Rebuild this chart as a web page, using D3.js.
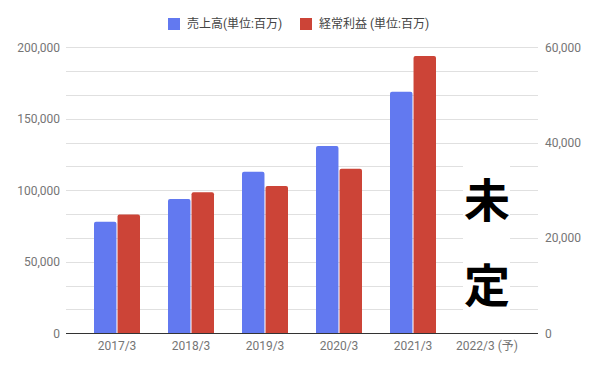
<!DOCTYPE html>
<html>
<head>
<meta charset="utf-8">
<script src="https://d3js.org/d3.v7.min.js"></script>
<style>
  body { margin: 0; background: #fff; }
  text { font-family: Roboto, "Noto Sans CJK JP", sans-serif; }
</style>
</head>
<body>
<svg width="597" height="369"></svg>
<script>

const categories = ["2017/3", "2018/3", "2019/3", "2020/3", "2021/3", "2022/3 (予)"];
const sales = [78000, 94000, 113000, 131000, 169000, null];
const profit = [24900, 29600, 30900, 34500, 58200, null];
const seriesNames = ["売上高(単位:百万)", "経常利益 (単位:百万)"];
const colors = ["#6279f0", "#cc4437"];
const leftTicks = [0, 50000, 100000, 150000, 200000];
const rightTicks = [0, 20000, 40000, 60000];

var svg = d3.select("svg"),
    plotLeft = 66, plotRight = 538,
    plotTop = 47.3, plotBottom = 333.3;

var x = d3.scaleBand()
    .domain(categories)
    .range([80, 524]);

var xs = d3.scaleBand()
    .domain([0, 1])
    .range([-23, 23])
    .paddingInner(0.045);

var yL = d3.scaleLinear().domain([0, 200000]).range([plotBottom, plotTop]);
var yR = d3.scaleLinear().domain([0, 60000]).range([plotBottom, plotTop]);

// gridlines (12 intervals)
svg.append("g")
  .selectAll("line")
  .data(d3.range(1, 13))
  .enter().append("line")
    .attr("x1", plotLeft).attr("x2", plotRight)
    .attr("y1", function(d) { return Math.round(yR(d * 5000)) + 0.5; })
    .attr("y2", function(d) { return Math.round(yR(d * 5000)) + 0.5; })
    .attr("stroke", "#e0e0e0")
    .attr("stroke-width", 1);

// left axis labels
svg.append("g")
  .selectAll("text")
  .data(leftTicks)
  .enter().append("text")
    .attr("x", 60)
    .attr("y", function(d) { return yL(d); })
    .attr("dy", "0.35em")
    .attr("text-anchor", "end")
    .attr("font-size", 12)
    .attr("fill", "#757575")
    .text(d3.format(","));

// right axis labels
svg.append("g")
  .selectAll("text")
  .data(rightTicks)
  .enter().append("text")
    .attr("x", 545)
    .attr("y", function(d) { return yR(d); })
    .attr("dy", "0.35em")
    .attr("font-size", 12)
    .attr("fill", "#757575")
    .text(d3.format(","));

// bars
var groups = svg.append("g")
  .selectAll("g")
  .data(categories)
  .enter().append("g")
    .attr("transform", function(d) { return "translate(" + (x(d) + x.bandwidth() / 2) + ",0)"; });

groups.each(function(c, i) {
  var g = d3.select(this);
  var vals = [
    { v: sales[i], y: yL, s: 0 },
    { v: profit[i], y: yR, s: 1 }
  ].filter(function(d) { return d.v != null; });
  g.selectAll("path")
    .data(vals)
    .enter().append("path")
      .attr("fill", function(d) { return colors[d.s]; })
      .attr("d", function(d) {
        var x0 = xs(d.s), w = xs.bandwidth(), y0 = d.y(d.v), r = 2;
        return "M" + x0 + "," + plotBottom + "V" + (y0 + r) +
          "Q" + x0 + "," + y0 + " " + (x0 + r) + "," + y0 +
          "H" + (x0 + w - r) +
          "Q" + (x0 + w) + "," + y0 + " " + (x0 + w) + "," + (y0 + r) +
          "V" + plotBottom + "Z";
      });
});

// baseline
svg.append("line")
  .attr("x1", plotLeft).attr("x2", plotRight)
  .attr("y1", Math.round(plotBottom) + 0.5).attr("y2", Math.round(plotBottom) + 0.5)
  .attr("stroke", "#333")
  .attr("stroke-width", 1);

// category labels
svg.append("g")
  .selectAll("text")
  .data(categories)
  .enter().append("text")
    .attr("x", function(d) { return x(d) + x.bandwidth() / 2; })
    .attr("y", 350)
    .attr("text-anchor", "middle")
    .attr("font-size", 12)
    .attr("fill", "#757575")
    .text(function(d) { return d; });

// legend
var legendX = [168, 300];
var legend = svg.append("g")
  .selectAll("g")
  .data(seriesNames)
  .enter().append("g")
    .attr("transform", function(d, i) { return "translate(" + legendX[i] + ",18)"; });

legend.append("rect")
    .attr("width", 12).attr("height", 12)
    .attr("fill", function(d, i) { return colors[i]; });

legend.append("text")
    .attr("x", 19)
    .attr("y", 6)
    .attr("dy", "0.35em")
    .attr("font-size", 12)
    .attr("fill", "#444")
    .text(function(d) { return d; });

// "未定" overlay for 2022/3
var cx = x(categories[5]) + x.bandwidth() / 2;
svg.append("rect")
  .attr("x", cx - 24).attr("y", 163)
  .attr("width", 47).attr("height", 148)
  .attr("fill", "#fff");

svg.append("g")
  .selectAll("text")
  .data(["未", "定"])
  .enter().append("text")
    .attr("x", cx)
    .attr("y", function(d, i) { return 201 + i * 85; })
    .attr("dy", "0.35em")
    .attr("text-anchor", "middle")
    .attr("font-size", 46)
    .attr("font-weight", "bold")
    .attr("fill", "#000")
    .style("font-family", "'Noto Sans CJK JP', sans-serif")
    .text(function(d) { return d; });

</script>
</body>
</html>
